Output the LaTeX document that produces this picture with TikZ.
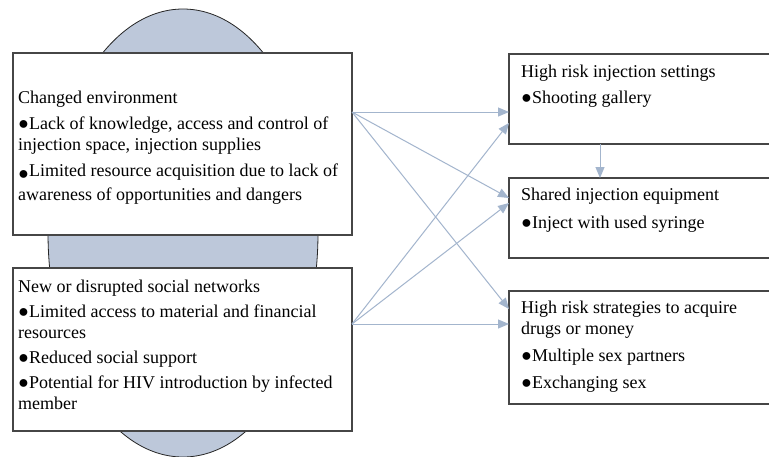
\documentclass[tikz,border=0pt]{standalone}
\usepackage{fontspec}
\setmainfont{Liberation Serif}
\usetikzlibrary{arrows.meta,calc}
\definecolor{arrowc}{RGB}{163,181,205}
\definecolor{ellc}{RGB}{189,200,218}
\definecolor{boxc}{RGB}{70,70,70}
\tikzset{
 box/.style={draw=boxc,line width=1.1pt,fill=white,inner sep=0pt,outer sep=0pt,anchor=north west},
 txt/.style={anchor=north west,inner sep=0pt,align=left,font=\fontsize{18}{21}\selectfont},
 arr/.style={draw=arrowc,line width=1pt,-{Triangle[length=11pt,width=9pt]}},
}
\newcommand{\bul}{●}
\begin{document}
\begin{tikzpicture}[x=1pt,y=-1pt]
\useasboundingbox (0,0) rectangle (769,456);
\clip (0,0) rectangle (769,456);
\fill[white] (0,0) rectangle (769,456);
\draw[fill=ellc,draw=black!85,line width=0.8pt] (183,233) ellipse [x radius=135pt,y radius=224pt];
\node[box,minimum width=339pt,minimum height=182pt] (b1) at (13,53) {};
\node[box,minimum width=339pt,minimum height=163pt] (b2) at (13,268) {};
\node[box,minimum width=270pt,minimum height=90pt] (hA) at (509,54) {};
\node[box,minimum width=270pt,minimum height=80pt] (hB) at (509,178) {};
\node[box,minimum width=270pt,minimum height=113pt] (hC) at (509,291) {};
\node[txt] (t1) at (18,91) {Changed environment\\[5pt]\bul Lack of knowledge, access and control of\\injection space, injection supplies\\[5pt]\raisebox{-3pt}{\bul}Limited resource acquisition due to lack of\\[3pt]awareness of opportunities and dangers};
\node[txt] (t2) at (18,280) {New or disrupted social networks\\[4pt]\bul Limited access to material and financial\\resources\\[4pt]\bul Reduced social support\\[4pt]\bul Potential for HIV introduction by infected\\member};
\node[txt] (tA) at (521,65) {High risk injection settings\\[5pt]\bul Shooting gallery};
\node[txt] (tB) at (521,188) {Shared injection equipment\\[7pt]\bul Inject with used syringe};
\node[txt] (tC) at (521,301) {High risk strategies to acquire\\drugs or money\\[6pt]\bul Multiple sex partners\\[6pt]\bul Exchanging sex};
\draw[arr] ($(b1.north east)+(0,59)$) -- ($(hA.north west)+(0,58)$);
\draw[arr] ($(b1.north east)+(0,59)$) -- ($(hB.north west)+(0,20)$);
\draw[arr] ($(b1.north east)+(0,59)$) -- ($(hC.north west)+(0,18)$);
\draw[arr] ($(b2.north east)+(0,56)$) -- ($(hA.north west)+(0,69)$);
\draw[arr] ($(b2.north east)+(0,56)$) -- ($(hB.north west)+(0,25)$);
\draw[arr] ($(b2.north east)+(0,56)$) -- ($(hC.north west)+(0,33)$);
\draw[arr] ($(hA.south west)+(91,0)$) -- ($(hB.north west)+(91,0)$);
\end{tikzpicture}
\end{document}
